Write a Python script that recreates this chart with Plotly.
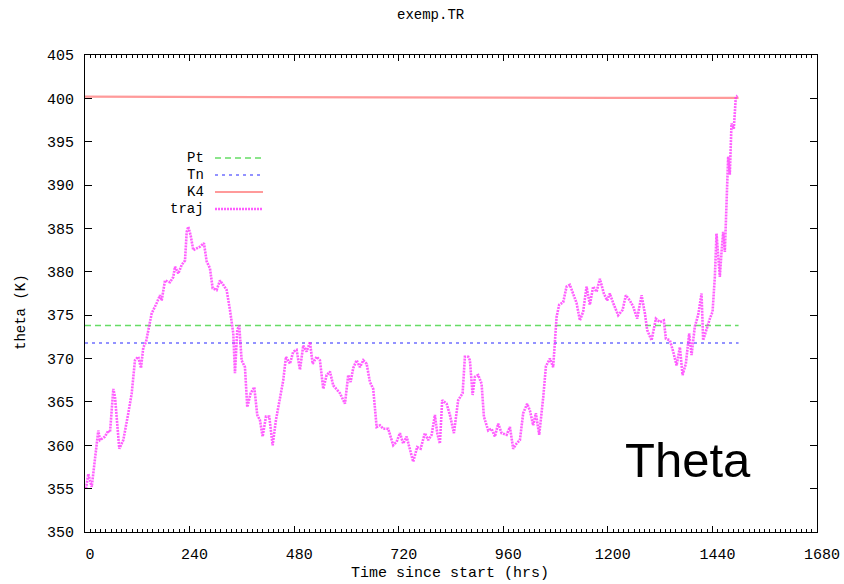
import plotly.graph_objects as go

# Trajectory of potential temperature along the run
hours = [2.3, 7.6, 15.4, 26.8, 30.5, 34.4, 45.9, 53.5, 57.4, 65.0, 68.8, 78.7, 87.9, 99.4,
         107.2, 114.7, 122.3, 128.5, 133.8, 140.0, 145.2, 153.0, 164.5, 172.1, 176.0, 183.6,
         195.0, 202.6, 206.5, 214.1, 221.9, 229.5, 233.4, 237.0, 242.5, 248.5, 256.3, 263.9,
         273.0, 279.2, 286.8, 293.0, 302.2, 309.8, 317.3, 325.1, 332.7, 340.3, 344.2, 349.5,
         354.0, 359.5, 367.1, 372.4, 380.2, 388.5, 395.3, 401.5, 407.7, 415.3, 422.9, 430.7,
         438.2, 447.4, 455.0, 461.2, 470.4, 477.9, 485.7, 493.3, 500.9, 508.7, 516.3, 522.5,
         531.6, 539.2, 546.8, 554.6, 562.2, 569.7, 585.1, 596.6, 604.2, 609.6, 615.6, 623.4,
         631.0, 638.6, 646.4, 653.9, 661.5, 669.3, 676.9, 684.5, 695.9, 707.4, 715.2, 722.8,
         730.3, 738.1, 745.7, 753.2, 762.4, 770.3, 780.1, 787.7, 795.5, 803.1, 808.4, 814.5,
         819.8, 829.9, 837.5, 846.7, 856.5, 866.6, 871.9, 879.5, 883.4, 889.6, 894.9, 902.4,
         910.2, 915.5, 925.4, 933.2, 940.7, 948.3, 956.1, 967.6, 975.2, 982.7, 990.5, 998.1,
         1005.7, 1014.8, 1021.1, 1028.6, 1034.8, 1042.4, 1051.6, 1057.8, 1067.0, 1074.5,
         1082.3, 1088.3, 1097.5, 1105.3, 1112.8, 1120.4, 1128.2, 1135.8, 1143.3, 1151.1,
         1158.7, 1166.3, 1174.1, 1181.7, 1190.8, 1198.4, 1204.6, 1212.2, 1223.7, 1233.8,
         1241.3, 1250.5, 1258.1, 1267.3, 1277.4, 1285.0, 1290.2, 1300.3, 1310.2, 1319.3,
         1328.5, 1333.1, 1342.3, 1349.9, 1357.7, 1365.3, 1371.4, 1379.0, 1386.6, 1392.1,
         1399.6, 1407.2, 1415.0, 1418.7, 1426.5, 1434.1, 1440.3, 1445.5, 1449.4, 1457.0,
         1460.9, 1464.6, 1468.5, 1472.4, 1476.1, 1479.9, 1483.8, 1489.1, 1493.7, 1497.6]
theta = [355.0, 356.7, 355.2, 360.6, 361.7, 360.6, 361.0, 361.7, 361.5, 366.5, 365.6, 359.6,
         360.6, 363.7, 366.0, 369.8, 370.2, 368.9, 371.3, 371.9, 373.3, 375.2, 376.4, 377.3,
         376.7, 379.0, 378.8, 379.4, 380.6, 379.8, 380.8, 381.3, 384.6, 385.2, 384.2, 382.5,
         382.7, 382.9, 383.3, 381.2, 380.4, 378.1, 377.9, 379.0, 378.5, 377.9, 375.6, 372.9,
         368.3, 373.3, 373.8, 369.8, 369.0, 364.4, 366.0, 366.7, 363.5, 362.9, 361.0, 363.3,
         363.3, 360.0, 362.9, 365.4, 367.5, 370.2, 369.4, 370.8, 371.0, 368.7, 371.5, 370.8,
         371.9, 369.4, 370.2, 369.8, 366.5, 368.1, 368.5, 366.9, 366.0, 364.8, 368.1, 367.3,
         368.9, 369.8, 369.0, 369.8, 369.4, 367.3, 366.5, 362.1, 362.3, 361.9, 361.9, 360.0,
         360.4, 361.4, 360.2, 361.0, 359.4, 358.1, 359.8, 359.6, 361.4, 360.6, 361.2, 363.5,
         361.4, 360.2, 365.2, 364.8, 363.5, 361.4, 365.2, 366.0, 370.2, 370.2, 369.8, 365.8,
         367.9, 368.1, 367.1, 363.3, 361.7, 361.9, 361.0, 362.5, 361.4, 361.2, 362.1, 359.6,
         360.2, 360.6, 363.7, 364.8, 364.0, 362.3, 363.7, 361.2, 365.5, 369.1, 370.0, 369.0,
         374.8, 376.2, 376.5, 378.3, 378.5, 377.5, 376.4, 374.4, 375.4, 378.3, 376.2, 378.3,
         377.7, 379.2, 377.5, 376.7, 377.5, 376.4, 375.0, 375.6, 377.3, 376.7, 376.0, 374.6,
         377.3, 375.2, 373.3, 372.1, 374.6, 374.2, 374.4, 372.3, 372.1, 370.8, 369.2, 371.3,
         368.1, 369.4, 372.9, 370.4, 373.7, 375.0, 377.5, 372.1, 373.5, 374.6, 375.4, 379.4,
         384.4, 379.4, 382.3, 384.6, 382.3, 388.3, 393.3, 391.2, 397.1, 396.5, 400.2, 400.3]

# Reference levels
level_hours = [0, 1500]
pt_level = [373.8, 373.8]
tn_level = [371.8, 371.8]
k4_hours = [0, 600, 1200, 1500]
k4_level = [400.2, 400.1, 400.05, 400.05]

MONO = "Liberation Mono"
W, H = 844, 584
L, R, T, B = 85, 817, 55, 532

def px(x):
    return (x - L) / (R - L)

def py(y):
    return (B - y) / (B - T)

styles = {
    "Pt": dict(color="#66dd66", width=1.5, dash="6px,4px"),
    "Tn": dict(color="#6f6fff", width=1.5, dash="3px,4px"),
    "K4": dict(color="#ff9a9a", width=2.2, dash="solid"),
    "traj": dict(color="rgba(255,40,255,0.75)", width=2.6, dash="2px,1px"),
}

fig = go.Figure()
fig.add_trace(go.Scatter(x=level_hours, y=pt_level, mode="lines", name="Pt",
                         line=styles["Pt"], showlegend=False))
fig.add_trace(go.Scatter(x=level_hours, y=tn_level, mode="lines", name="Tn",
                         line=styles["Tn"], showlegend=False))
fig.add_trace(go.Scatter(x=k4_hours, y=k4_level, mode="lines", name="K4",
                         line=styles["K4"], showlegend=False))
fig.add_trace(go.Scatter(x=hours, y=theta, mode="lines", name="traj",
                         line=styles["traj"], showlegend=False))

# gnuplot-style key: label on the left, line sample on the right
key_rows = [("Pt", 158), ("Tn", 175), ("K4", 192), ("traj", 209)]
annotations = []
shapes = []
for name, yy in key_rows:
    annotations.append(dict(x=px(206), y=py(yy), xref="paper", yref="paper",
                            text=name, showarrow=False, xanchor="right", yanchor="middle",
                            font=dict(family=MONO, size=14, color="#000")))
    st = styles[name]
    shapes.append(dict(type="line", xref="paper", yref="paper",
                       x0=px(215), x1=px(263), y0=py(yy), y1=py(yy),
                       line=dict(color=st["color"], width=st["width"], dash=st["dash"])))

annotations.append(dict(x=px(431), y=py(15), xref="paper", yref="paper", text="exemp.TR",
                        showarrow=False, xanchor="center", yanchor="middle",
                        font=dict(family=MONO, size=14, color="#000")))
annotations.append(dict(x=px(21), y=py(312), xref="paper", yref="paper", text="theta (K)",
                        showarrow=False, xanchor="center", yanchor="middle", textangle=-90,
                        font=dict(family=MONO, size=14, color="#000")))
annotations.append(dict(x=px(450), y=py(573), xref="paper", yref="paper",
                        text="Time since start (hrs)", showarrow=False,
                        xanchor="center", yanchor="middle",
                        font=dict(family=MONO, size=15, color="#000")))
annotations.append(dict(x=px(688), y=py(460), xref="paper", yref="paper", text="Theta",
                        showarrow=False, xanchor="center", yanchor="middle",
                        font=dict(family="Liberation Sans", size=49, color="#000")))

fig.update_layout(
    width=W, height=H,
    margin=dict(l=L, r=W - R, t=T, b=H - B, autoexpand=False),
    paper_bgcolor="white", plot_bgcolor="white",
    showlegend=False,
    annotations=annotations, shapes=shapes,
    font=dict(family=MONO, size=14, color="#000"),
)
fig.update_xaxes(
    range=[0, 1680], tickmode="linear", tick0=0, dtick=240, automargin=False,
    showgrid=False, zeroline=False, showline=True, linecolor="#000", linewidth=1,
    mirror="ticks", ticks="inside", ticklen=6, tickcolor="#000", tickwidth=1,
    ticklabelstandoff=8, ticklabelshift=5,
    tickfont=dict(family=MONO, size=15, color="#000"),
    minor=dict(tickmode="linear", tick0=0, dtick=12, ticks="inside", ticklen=3,
               tickcolor="#000", tickwidth=1, showgrid=False),
)
fig.update_yaxes(
    range=[350, 405], tickmode="linear", tick0=350, dtick=5, automargin=False,
    showgrid=False, zeroline=False, showline=True, linecolor="#000", linewidth=1,
    mirror="ticks", ticks="inside", ticklen=7, tickcolor="#000", tickwidth=1,
    ticklabelstandoff=7,
    tickfont=dict(family=MONO, size=15, color="#000"),
)

fig.write_html("out.html")
